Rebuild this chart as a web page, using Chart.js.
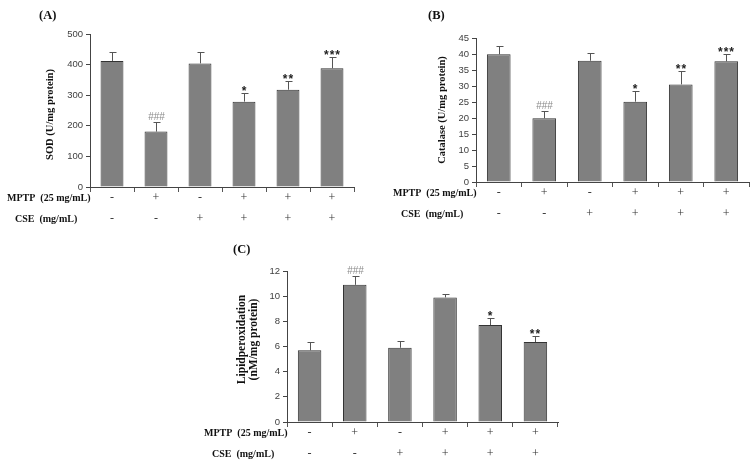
<!DOCTYPE html>
<html>
<head>
<meta charset="utf-8">
<script src="https://cdn.jsdelivr.net/npm/chart.js@4.4.1/dist/chart.umd.min.js"></script>
<style>
    body { margin: 0; background: #fff; }
    #page { position: relative; width: 755px; height: 473px; overflow: hidden; }
    #page canvas { position: absolute; }
</style>
</head>
<body>
<div id="page">
    <canvas id="chartA" width="375" height="235" style="left:0;top:0"></canvas>
    <canvas id="chartB" width="380" height="235" style="left:375px;top:0"></canvas>
    <canvas id="chartC" width="380" height="238" style="left:190px;top:235px"></canvas>
</div>
<script>
// Treatment groups (+ / - under each bar)
const groups = ['G1', 'G2', 'G3', 'G4', 'G5', 'G6'];
const mptpSigns = ['-', '+', '-', '+', '+', '+'];
const cseSigns = ['-', '-', '+', '+', '+', '+'];

// (A) SOD
const sodMeans = [412, 181, 404, 279, 318, 388];
const sodErrors = [30, 30, 36, 28, 28, 36];
const sodMarks = ['', '###', '', '*', '**', '***'];
const sodTicks = [0, 100, 200, 300, 400, 500];

// (B) Catalase
const catMeans = [39.9, 19.9, 37.9, 25.1, 30.5, 37.7];
const catErrors = [2.6, 2.2, 2.5, 3.4, 4.3, 2.2];
const catMarks = ['', '###', '', '*', '**', '***'];
const catTicks = [0, 5, 10, 15, 20, 25, 30, 35, 40, 45];

// (C) Lipid peroxidation
const lpoMeans = [5.7, 10.9, 5.9, 9.9, 7.7, 6.35];
const lpoErrors = [0.65, 0.7, 0.5, 0.3, 0.6, 0.47];
const lpoMarks = ['', '###', '', '', '*', '**'];
const lpoTicks = [0, 2, 4, 6, 8, 10, 12];

const serif = "'Liberation Serif', 'Times New Roman', serif";
const sans = "'Liberation Sans', Arial, sans-serif";

// Draws error bars, significance marks, +/- rows and the text around the axes
function panelPlugin(p) {
    return {
        id: 'panelExtras',
        afterDatasetsDraw(chart) {
            const ctx = chart.ctx;
            const area = chart.chartArea;
            const yScale = chart.scales.y;
            const bars = chart.getDatasetMeta(0).data;
            ctx.save();

            // error bars (upper only)
            ctx.strokeStyle = '#555';
            ctx.lineWidth = 1;
            p.means.forEach((m, i) => {
                const cx = Math.round(bars[i].x) + 0.5;
                const top = Math.round(yScale.getPixelForValue(m + p.errors[i])) + 0.5;
                const base = yScale.getPixelForValue(m);
                ctx.beginPath();
                ctx.moveTo(cx, base);
                ctx.lineTo(cx, top);
                ctx.moveTo(cx - 3, top);
                ctx.lineTo(cx + 4, top);
                ctx.stroke();

                const mark = p.marks[i];
                if (mark) {
                    ctx.textAlign = 'center';
                    ctx.textBaseline = 'alphabetic';
                    if (mark.startsWith('#')) {
                        ctx.fillStyle = '#8a8a8a';
                        ctx.font = '10px ' + sans;
                        ctx.fillText(mark, cx, top - 3);
                    } else {
                        ctx.fillStyle = '#222';
                        ctx.font = 'bold 12px ' + sans;
                        ctx.letterSpacing = '1px';
                        ctx.fillText(mark, cx, top + 1);
                        ctx.letterSpacing = '0px';
                    }
                }
            });

            // +/- rows under the x axis
            ctx.fillStyle = '#333';
            ctx.font = '12px ' + serif;
            ctx.textAlign = 'center';
            ctx.textBaseline = 'middle';
            groups.forEach((g, i) => {
                const cx = bars[i].x;
                ctx.fillText(mptpSigns[i], cx, area.bottom + 11);
                ctx.fillText(cseSigns[i], cx, area.bottom + 32);
            });

            // row labels
            ctx.fillStyle = '#111';
            ctx.font = 'bold 10px ' + serif;
            ctx.textAlign = 'left';
            ctx.fillText('MPTP  (25 mg/mL)', area.left - 83, area.bottom + 11);
            ctx.fillText('CSE  (mg/mL)', area.left - 75, area.bottom + 32);

            // panel letter
            ctx.font = 'bold 12.5px ' + serif;
            ctx.fillText(p.letter, area.left + p.letterDx, area.top + p.letterDy);

            // rotated y title
            ctx.font = 'bold ' + p.titleSize + 'px ' + serif;
            ctx.textAlign = 'center';
            p.title.forEach((line, k) => {
                ctx.save();
                ctx.translate(area.left + p.titleDx[k], (area.top + area.bottom) / 2 + p.titleDy);
                ctx.rotate(-Math.PI / 2);
                ctx.fillText(line, 0, 0);
                ctx.restore();
            });
            ctx.restore();
        }
    };
}

function makeChart(id, p) {
    const canvas = document.getElementById(id);
    const W = canvas.width, H = canvas.height;
    return new Chart(canvas, {
        type: 'bar',
        data: {
            labels: groups,
            datasets: [{
                data: p.means,
                backgroundColor: '#808080',
                borderColor: '#333',
                borderWidth: 1,
                categoryPercentage: 1,
                barPercentage: 0.52
            }]
        },
        options: {
            responsive: false,
            animation: false,
            layout: { padding: { left: 0, top: p.area[1], right: W - p.area[2], bottom: 0 } },
            plugins: { legend: { display: false }, tooltip: { enabled: false } },
            scales: {
                x: {
                    grid: { display: true, drawOnChartArea: false, drawTicks: true, tickLength: 5, color: '#555', offset: true },
                    border: { display: true, color: '#444', width: 1 },
                    ticks: { display: false },
                    afterFit: s => { s.height = H - p.area[3]; }
                },
                y: {
                    min: p.ticks[0],
                    max: p.ticks[p.ticks.length - 1],
                    grid: { display: true, drawOnChartArea: false, drawTicks: true, tickLength: 4, color: '#444' },
                    border: { display: true, color: '#444', width: 1 },
                    ticks: {
                        stepSize: p.ticks[1] - p.ticks[0],
                        padding: 3,
                        color: '#404040',
                        font: { family: sans, size: 9.5 }
                    },
                    afterFit: s => { s.width = p.area[0]; }
                }
            }
        },
        plugins: [panelPlugin(p)]
    });
}

makeChart('chartA', {
    means: sodMeans, errors: sodErrors, marks: sodMarks, ticks: sodTicks,
    area: [90, 34, 354, 187],
    letter: '(A)', letterDx: -51, letterDy: -18,
    title: ['SOD (U/mg protein)'], titleSize: 10.5, titleDx: [-40], titleDy: 4
});

makeChart('chartB', {
    means: catMeans, errors: catErrors, marks: catMarks, ticks: catTicks,
    area: [101, 38, 374, 182],
    letter: '(B)', letterDx: -48, letterDy: -22,
    title: ['Catalase (U/mg protein)'], titleSize: 10.5, titleDx: [-34], titleDy: 0
});

makeChart('chartC', {
    means: lpoMeans, errors: lpoErrors, marks: lpoMarks, ticks: lpoTicks,
    area: [97, 36, 368, 187],
    letter: '(C)', letterDx: -54, letterDy: -21,
    title: ['Lipidperoxidation', '(nM/mg protein)'], titleSize: 11.5, titleDx: [-45, -33], titleDy: -7
});
</script>
</body>
</html>
